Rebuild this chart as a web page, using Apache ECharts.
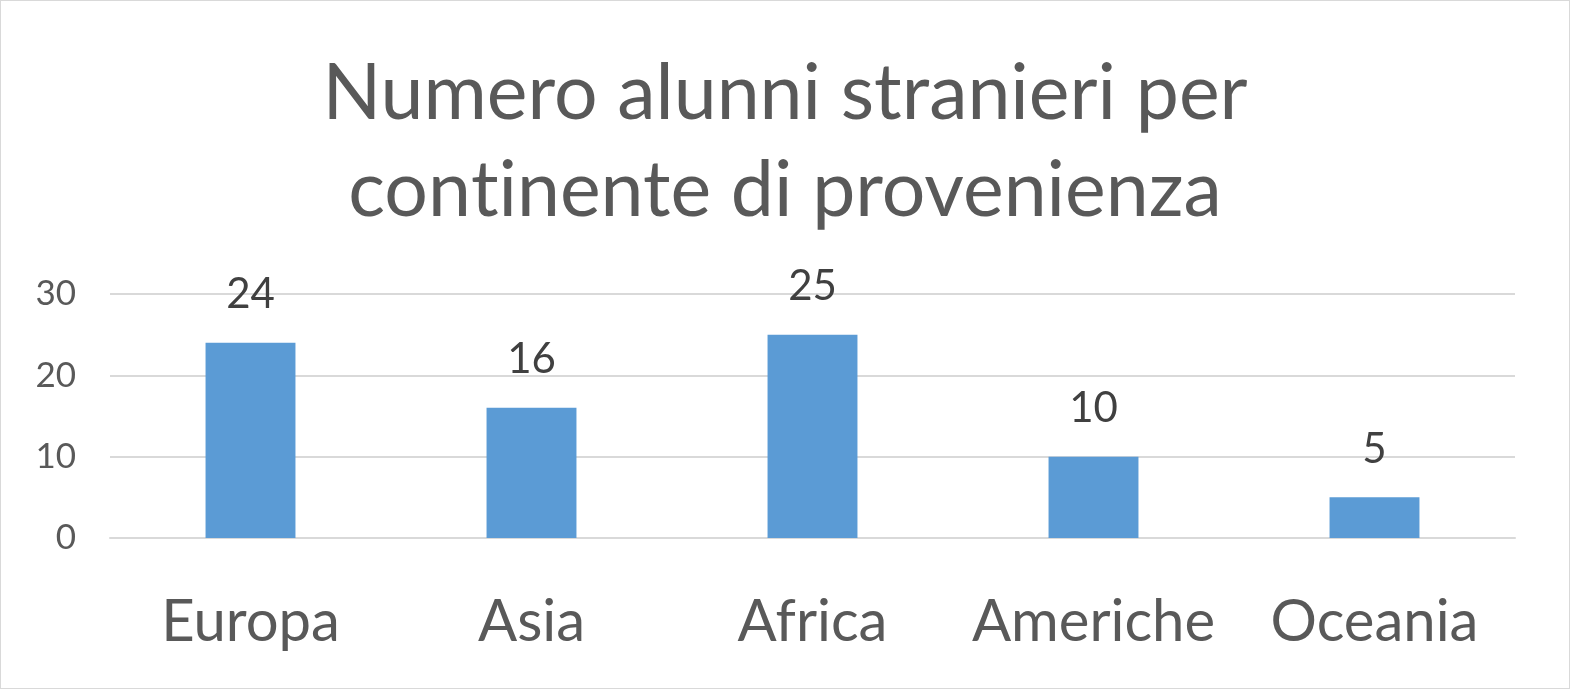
<!DOCTYPE html>
<html lang="it">
<head>
<meta charset="UTF-8">
<title>Numero alunni stranieri per continente di provenienza</title>
<script src="https://cdn.jsdelivr.net/npm/echarts@6/dist/echarts.min.js"></script>
<style>
  html, body { margin: 0; padding: 0; background: #fff; }
  #chart { width: 1568px; height: 687px; border: 1px solid #d9d9d9; }
</style>
</head>
<body>
<div id="chart"></div>
<script>
var categories = ['Europa', 'Asia', 'Africa', 'Americhe', 'Oceania'];
var values = [24, 16, 25, 10, 5];
var yTicks = [0, 10, 20, 30];

var FONT = 'Lato';
var myChart = echarts.init(document.getElementById('chart'));

var titleFont = {
  fontFamily: FONT,
  fontSize: 77,
  fontWeight: 'normal',
  color: '#595959',
  lineHeight: 97
};

// la "t" in un segmento a parte evita la legatura "ti" di Lato
var option = {
  backgroundColor: '#ffffff',
  title: {
    text: 'Numero alunni stranieri per\ncon{s|t}inente di provenienza',
    left: 'center',
    top: 40,
    textStyle: Object.assign({}, titleFont, { rich: { s: titleFont } })
  },
  grid: { left: 109, right: 54, top: 293, bottom: 150 },
  xAxis: {
    type: 'category',
    data: categories,
    axisLine: { lineStyle: { color: '#d9d9d9', width: 2 } },
    axisTick: { show: false },
    axisLabel: { interval: 0, fontFamily: FONT, fontSize: 58, color: '#595959', margin: 55 }
  },
  yAxis: {
    type: 'value',
    min: yTicks[0],
    max: yTicks[yTicks.length - 1],
    interval: 10,
    axisLine: { show: false },
    axisTick: { show: false },
    splitLine: { lineStyle: { color: '#d9d9d9', width: 2 } },
    axisLabel: { fontFamily: FONT, fontSize: 35, color: '#595959', margin: 34 }
  },
  series: [{
    type: 'bar',
    data: values,
    barWidth: '32%',
    itemStyle: { color: '#5b9bd5' },
    label: {
      show: true,
      position: 'top',
      distance: 27,
      fontFamily: FONT,
      fontSize: 42,
      color: '#404040'
    }
  }]
};

myChart.setOption(option);
</script>
</body>
</html>
